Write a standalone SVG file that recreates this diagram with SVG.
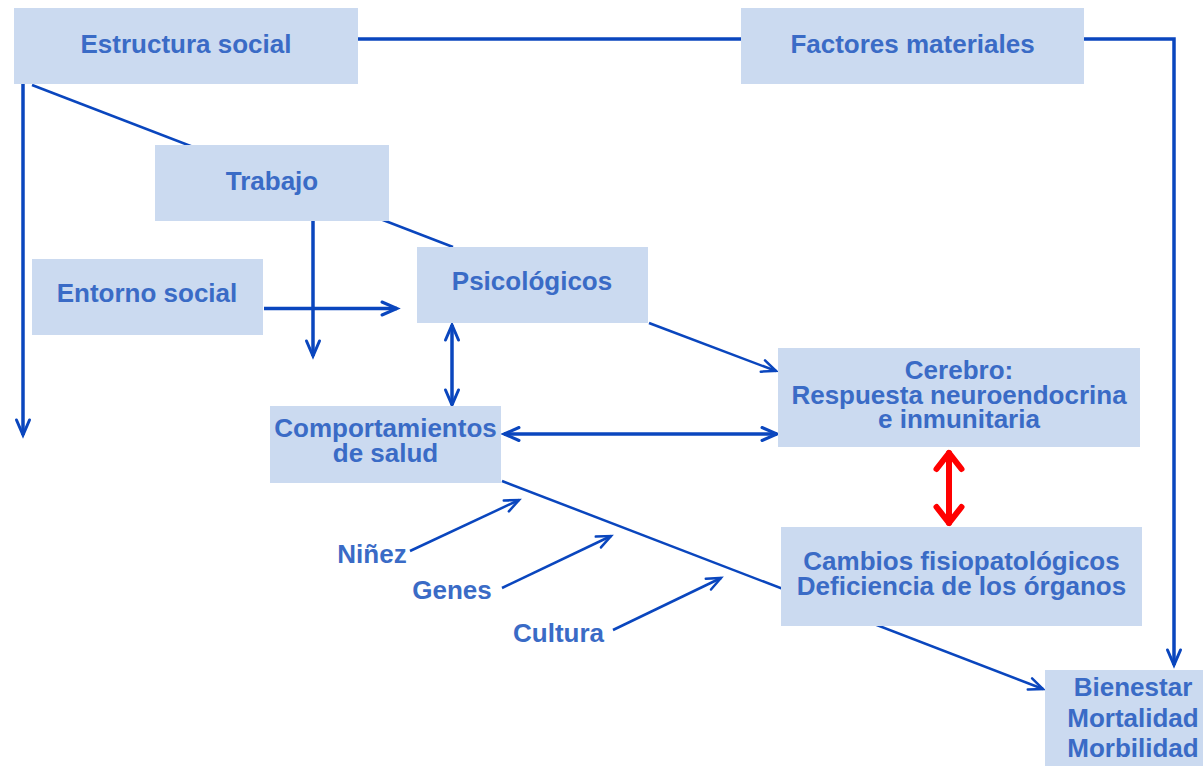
<svg xmlns="http://www.w3.org/2000/svg" width="1203" height="766" viewBox="0 0 1203 766">
  <style>
    .box { fill: #cbdaf0; }
    .lbl { font-family: "Liberation Sans", Arial, sans-serif; font-weight: bold; font-size: 26px; fill: #3a6bc6; text-anchor: middle; }
    .thick { stroke: #0a46be; stroke-width: 3.5; fill: none; }
    .thin { stroke: #0a46be; stroke-width: 2.5; fill: none; }
    .red { stroke: #ff0000; stroke-width: 6; fill: none; stroke-linecap: round; }
  </style>
  <defs>
    <marker id="ah" markerUnits="userSpaceOnUse" markerWidth="40" markerHeight="40" refX="0" refY="0" orient="auto-start-reverse" overflow="visible">
      <path d="M-15,-6.5 L0,0 L-15,6.5" fill="none" stroke="#0a46be" stroke-width="3" stroke-linecap="round"/>
    </marker>
    <marker id="ahThin" markerUnits="userSpaceOnUse" markerWidth="40" markerHeight="40" refX="0" refY="0" orient="auto" overflow="visible">
      <path d="M-14,-6 L0,0 L-14,6" fill="none" stroke="#0a46be" stroke-width="2.5" stroke-linecap="round"/>
    </marker>
    <marker id="ahRed" markerUnits="userSpaceOnUse" markerWidth="40" markerHeight="40" refX="0" refY="0" orient="auto-start-reverse" overflow="visible">
      <path d="M-16,-12.5 L0,0 L-16,12.5" fill="none" stroke="#ff0000" stroke-width="6" stroke-linecap="round" stroke-linejoin="round"/>
    </marker>
  </defs>

  <rect width="1203" height="766" fill="#ffffff"/>

  <!-- connectors, drawn beneath the boxes -->
  <g id="connectors">
    <line class="thick" x1="358" y1="39" x2="741" y2="39"/>
    <polyline class="thick" points="1084,39 1174,39 1174,665" marker-end="url(#ah)"/>
    <line class="thick" x1="23" y1="84" x2="23" y2="435" marker-end="url(#ah)"/>
    <line class="thin" x1="32" y1="85" x2="453" y2="247"/>
    <line class="thick" x1="313" y1="221" x2="313" y2="356" marker-end="url(#ah)"/>
    <line class="thick" x1="264" y1="308.5" x2="397" y2="308.5" marker-end="url(#ah)"/>
    <line class="thick" x1="452" y1="325" x2="452" y2="405" marker-start="url(#ah)" marker-end="url(#ah)"/>
    <line class="thick" x1="504" y1="434" x2="777" y2="434" marker-start="url(#ah)" marker-end="url(#ah)"/>
    <line class="thin" x1="649" y1="323" x2="776" y2="371" marker-end="url(#ahThin)"/>
    <line class="thin" x1="502" y1="481" x2="1043" y2="689" marker-end="url(#ahThin)"/>
    <line class="thin" x1="410" y1="551" x2="519" y2="500" marker-end="url(#ahThin)"/>
    <line class="thin" x1="502" y1="588" x2="611" y2="536" marker-end="url(#ahThin)"/>
    <line class="thin" x1="613" y1="630" x2="721" y2="578" marker-end="url(#ahThin)"/>
    <line class="red" x1="949" y1="453" x2="949" y2="523" marker-start="url(#ahRed)" marker-end="url(#ahRed)"/>
  </g>

  <g id="estructura-social">
    <rect class="box" x="14" y="8" width="344" height="76"/>
    <text class="lbl" x="186" y="53">Estructura social</text>
  </g>
  <g id="factores-materiales">
    <rect class="box" x="741" y="8" width="343" height="76"/>
    <text class="lbl" x="912.5" y="53">Factores materiales</text>
  </g>
  <g id="trabajo">
    <rect class="box" x="155" y="145" width="234" height="76"/>
    <text class="lbl" x="272" y="190">Trabajo</text>
  </g>
  <g id="entorno-social">
    <rect class="box" x="32" y="259" width="231" height="76"/>
    <text class="lbl" x="147" y="302">Entorno social</text>
  </g>
  <g id="psicologicos">
    <rect class="box" x="417" y="247" width="231" height="76"/>
    <text class="lbl" x="532" y="290">Psicológicos</text>
  </g>
  <g id="comportamientos">
    <rect class="box" x="270" y="406" width="231" height="77"/>
    <text class="lbl" x="385.5" y="437">Comportamientos</text>
    <text class="lbl" x="385.5" y="462">de salud</text>
  </g>
  <g id="cerebro">
    <rect class="box" x="778" y="348" width="362" height="99"/>
    <text class="lbl" x="959" y="379">Cerebro:</text>
    <text class="lbl" x="959" y="403.5">Respuesta neuroendocrina</text>
    <text class="lbl" x="959" y="428">e inmunitaria</text>
  </g>
  <g id="cambios">
    <rect class="box" x="781" y="527" width="361" height="99"/>
    <text class="lbl" x="961.5" y="570">Cambios fisiopatológicos</text>
    <text class="lbl" x="961.5" y="595">Deficiencia de los órganos</text>
  </g>
  <g id="bienestar">
    <rect class="box" x="1045" y="670" width="158" height="96"/>
    <text class="lbl" x="1133" y="696">Bienestar</text>
    <text class="lbl" x="1133" y="727">Mortalidad</text>
    <text class="lbl" x="1133" y="757">Morbilidad</text>
  </g>
  <g id="ninez">
    <text class="lbl" x="372" y="563">Niñez</text>
  </g>
  <g id="genes">
    <text class="lbl" x="452" y="599">Genes</text>
  </g>
  <g id="cultura">
    <text class="lbl" x="558.5" y="642">Cultura</text>
  </g>
</svg>
